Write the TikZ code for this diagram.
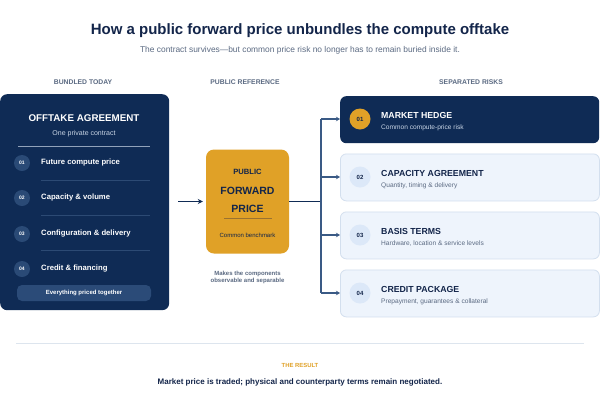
\documentclass[tikz,border=0pt]{standalone}
\usepackage{fontspec}
\setmainfont{Liberation Sans}
\usetikzlibrary{arrows.meta}
\definecolor{navy}{HTML}{0F2B55}
\definecolor{ink}{HTML}{13254A}
\definecolor{gold}{HTML}{E0A127}
\definecolor{goldline}{HTML}{9A7230}
\definecolor{greytxt}{HTML}{5B6A82}
\definecolor{lightfill}{HTML}{EEF4FC}
\definecolor{lightborder}{HTML}{D3DFEE}
\definecolor{circlelight}{HTML}{DCE8F8}
\definecolor{pill}{HTML}{2B4B78}
\definecolor{sepline}{HTML}{2C4A74}
\definecolor{numcirc}{HTML}{2A4A76}
\definecolor{branch}{HTML}{3A5A85}
\definecolor{subwhite}{HTML}{C9D5E6}
\definecolor{rule}{HTML}{DDE5EE}
\tikzset{
  colhead/.style={font=\fontsize{6.8}{8}\selectfont\bfseries, text=greytxt, inner sep=0pt},
  itemtxt/.style={anchor=west, font=\fontsize{7.7}{9}\selectfont\bfseries, text=white, inner sep=0pt},
  itemnum/.style={circle, fill=numcirc, minimum size=16pt, inner sep=0pt, font=\fontsize{5}{6}\selectfont\bfseries, text=white},
  riskbox/.style={rounded corners=6pt, minimum width=259pt, minimum height=47pt, anchor=north west, inner sep=0pt},
  lightbox/.style={riskbox, fill=lightfill, draw=lightborder, line width=0.8pt},
  darkbox/.style={riskbox, fill=navy},
  risknum/.style={circle, minimum size=21pt, inner sep=0pt, font=\fontsize{6}{7}\selectfont\bfseries, text=ink},
  risktitle/.style={anchor=west, font=\fontsize{8.75}{10}\selectfont\bfseries, inner sep=0pt},
  risksub/.style={anchor=west, font=\fontsize{6.6}{8}\selectfont, inner sep=0pt},
  feed/.style={draw=branch, line width=1.1pt, -{Stealth[length=4pt,width=4.5pt]}},
  seprule/.style={draw=sepline, line width=0.6pt},
}
\begin{document}
\begin{tikzpicture}[x=1pt,y=-1pt]
\useasboundingbox[fill=white] (0,0) rectangle (600,400);

% title
\node[font=\fontsize{15}{18}\selectfont\bfseries, text=ink, inner sep=0pt] (title) at (300,31) {How a public forward price unbundles the compute offtake};
\node[font=\fontsize{8.4}{10}\selectfont, text=greytxt, inner sep=0pt] (subtitle) at (300,50) {The contract survives—but common price risk no longer has to remain buried inside it.};

% column headers
\node[colhead] (h1) at (83,82) {BUNDLED TODAY};
\node[colhead] (h2) at (245,82) {PUBLIC REFERENCE};
\node[colhead] (h3) at (471,82) {SEPARATED RISKS};

% left box
\node[fill=navy, rounded corners=7pt, minimum width=169pt, minimum height=216pt, anchor=north west, inner sep=0pt] (offtake) at (0,94) {};
\node[font=\fontsize{9.8}{11}\selectfont\bfseries, text=white, inner sep=0pt] (otitle) at (84,118) {OFFTAKE AGREEMENT};
\node[font=\fontsize{7}{8}\selectfont, text=subwhite, inner sep=0pt] (osub) at (84,134) {One private contract};
\draw[draw=subwhite!70!navy, line width=0.8pt] (18,146) -- (150,146);

\node[itemnum] (n1) at (22,163) {01};
\node[itemtxt] (t1) at (41,163) {Future compute price};
\node[itemnum] (n2) at (22,198) {02};
\node[itemtxt] (t2) at (41,198) {Capacity \& volume};
\node[itemnum] (n3) at (22,234) {03};
\node[itemtxt] (t3) at (41,234) {Configuration \& delivery};
\node[itemnum] (n4) at (22,269) {04};
\node[itemtxt] (t4) at (41,269) {Credit \& financing};
\draw[seprule] (41,180) -- (150,180);
\draw[seprule] (41,215) -- (150,215);
\draw[seprule] (41,250) -- (150,250);

\node[fill=pill, rounded corners=5pt, minimum width=134pt, minimum height=16pt, inner sep=0pt, font=\fontsize{6}{7}\selectfont\bfseries, text=white] (pill) at (84,293) {Everything priced together};

% forward price box
\node[fill=gold, rounded corners=8pt, minimum width=83pt, minimum height=104pt, inner sep=0pt] (fwd) at (247.5,201.5) {};
\node[font=\fontsize{7.6}{9}\selectfont\bfseries, text=ink, inner sep=0pt] (fp1) at (247.5,172) {PUBLIC};
\node[font=\fontsize{10.5}{12}\selectfont\bfseries, text=ink, inner sep=0pt] (fp2) at (247.5,191) {FORWARD};
\node[font=\fontsize{10.5}{12}\selectfont\bfseries, text=ink, inner sep=0pt] (fp3) at (247.5,209) {PRICE};
\draw[draw=goldline, line width=0.7pt] (224,218) -- (272,218);
\node[font=\fontsize{6}{7}\selectfont, text=ink, inner sep=0pt] (fp4) at (247.5,235.5) {Common benchmark};
\node[font=\fontsize{6}{7.5}\selectfont\bfseries, text=greytxt, align=center, inner sep=0pt] (note) at (247.5,277.5) {Makes the components\\observable and separable};

% risk boxes
\node[darkbox] (r1) at (340,96) {};
\node[lightbox] (r2) at (340,153.5) {};
\node[lightbox] (r3) at (340,211.5) {};
\node[lightbox] (r4) at (340,269.5) {};

\node[risknum, fill=gold] (c1) at (360,119) {01};
\node[risktitle, text=white] (rt1) at (381,115) {MARKET HEDGE};
\node[risksub, text=subwhite] (rs1) at (381,128) {Common compute-price risk};

\node[risknum, fill=circlelight] (c2) at (360,177) {02};
\node[risktitle, text=ink] (rt2) at (381,173) {CAPACITY AGREEMENT};
\node[risksub, text=greytxt] (rs2) at (381,186) {Quantity, timing \& delivery};

\node[risknum, fill=circlelight] (c3) at (360,235) {03};
\node[risktitle, text=ink] (rt3) at (381,231) {BASIS TERMS};
\node[risksub, text=greytxt] (rs3) at (381,244) {Hardware, location \& service levels};

\node[risknum, fill=circlelight] (c4) at (360,293) {04};
\node[risktitle, text=ink] (rt4) at (381,289) {CREDIT PACKAGE};
\node[risksub, text=greytxt] (rs4) at (381,302) {Prepayment, guarantees \& collateral};

% connectors
\coordinate (bus) at (321,201.5);
\coordinate (b1) at (321,119);
\coordinate (b2) at (321,177);
\coordinate (b3) at (321,235);
\coordinate (b4) at (321,293);
\draw[draw=navy, line width=1.3pt, -{Stealth[length=5pt,width=5pt]}] ([xshift=9pt]offtake.east |- fwd.west) -- ([xshift=-3pt]fwd.west);
\draw[draw=navy, line width=1.1pt] (fwd.east) -- (bus);
\draw[draw=branch, line width=1.1pt] (b1) -- (b4);
\draw[feed] (b1) -- (b1 -| r1.west);
\draw[feed] (b2) -- (b2 -| r2.west);
\draw[feed] (b3) -- (b3 -| r3.west);
\draw[feed] (b4) -- (b4 -| r4.west);

% result
\draw[draw=rule, line width=0.8pt] (16,343) -- (584,343);
\node[font=\fontsize{5.9}{7}\selectfont\bfseries, text=gold, inner sep=0pt] (res) at (300,365) {THE RESULT};
\node[font=\fontsize{8}{10}\selectfont\bfseries, text=ink, inner sep=0pt] (resl) at (300,382) {Market price is traded; physical and counterparty terms remain negotiated.};
\end{tikzpicture}
\end{document}
